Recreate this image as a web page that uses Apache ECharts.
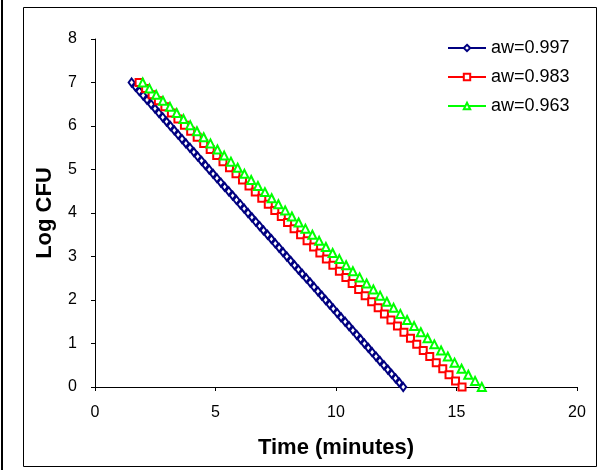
<!DOCTYPE html>
<html>
<head>
<meta charset="utf-8">
<script src="https://cdn.jsdelivr.net/npm/echarts@6/dist/echarts.min.js"></script>
<style>
html,body{margin:0;padding:0;background:#fff;}
#chart{width:599px;height:470px;}
</style>
</head>
<body>
<div id="chart"></div>
<script>
var seriesNames = ['aw=0.997', 'aw=0.983', 'aw=0.963'];
var xTicks = [0, 5, 10, 15, 20];
var yTicks = [0, 1, 2, 3, 4, 5, 6, 7, 8];

var blueX = [1.52,1.68,1.84,2.00,2.16,2.33,2.49,2.65,2.81,2.97,3.13,3.29,3.45,3.61,3.77,3.94,4.10,4.26,4.42,4.58,4.74,4.90,5.06,5.22,5.38,5.55,5.71,5.87,6.03,6.19,6.35,6.51,6.67,6.83,6.99,7.16,7.32,7.48,7.64,7.80,7.96,8.12,8.28,8.44,8.60,8.77,8.93,9.09,9.25,9.41,9.57,9.73,9.89,10.05,10.21,10.38,10.54,10.70,10.86,11.02,11.18,11.34,11.50,11.66,11.82,11.99,12.15,12.31,12.47,12.63,12.79];
var blueY = [7.0,6.9,6.8,6.7,6.6,6.5,6.4,6.3,6.2,6.1,6.0,5.9,5.8,5.7,5.6,5.5,5.4,5.3,5.2,5.1,5.0,4.9,4.8,4.7,4.6,4.5,4.4,4.3,4.2,4.1,4.0,3.9,3.8,3.7,3.6,3.5,3.4,3.3,3.2,3.1,3.0,2.9,2.8,2.7,2.6,2.5,2.4,2.3,2.2,2.1,2.0,1.9,1.8,1.7,1.6,1.5,1.4,1.3,1.2,1.1,1.0,0.9,0.8,0.7,0.6,0.5,0.4,0.3,0.2,0.1,0.0];

var redX = [1.83,2.10,2.37,2.63,2.90,3.17,3.44,3.71,3.97,4.24,4.51,4.78,5.05,5.31,5.58,5.85,6.12,6.39,6.65,6.92,7.19,7.46,7.73,7.99,8.26,8.53,8.80,9.07,9.33,9.60,9.87,10.14,10.41,10.67,10.94,11.21,11.48,11.75,12.01,12.28,12.55,12.82,13.09,13.35,13.62,13.89,14.16,14.43,14.69,14.96,15.23];
var redY = [7.00,6.86,6.72,6.58,6.44,6.30,6.16,6.02,5.88,5.74,5.60,5.46,5.32,5.18,5.04,4.90,4.76,4.62,4.48,4.34,4.20,4.06,3.92,3.78,3.64,3.50,3.36,3.22,3.08,2.94,2.80,2.66,2.52,2.38,2.24,2.10,1.96,1.82,1.68,1.54,1.40,1.26,1.12,0.98,0.84,0.70,0.56,0.42,0.28,0.14,0.00];

var greenX = [1.98,2.26,2.54,2.82,3.11,3.39,3.67,3.95,4.23,4.51,4.79,5.08,5.36,5.64,5.92,6.20,6.48,6.76,7.05,7.33,7.61,7.89,8.17,8.45,8.73,9.02,9.30,9.58,9.86,10.14,10.42,10.70,10.98,11.27,11.55,11.83,12.11,12.39,12.67,12.95,13.24,13.52,13.80,14.08,14.36,14.64,14.92,15.21,15.49,15.77,16.05];
var greenY = [7.00,6.86,6.72,6.58,6.44,6.30,6.16,6.02,5.88,5.74,5.60,5.46,5.32,5.18,5.04,4.90,4.76,4.62,4.48,4.34,4.20,4.06,3.92,3.78,3.64,3.50,3.36,3.22,3.08,2.94,2.80,2.66,2.52,2.38,2.24,2.10,1.96,1.82,1.68,1.54,1.40,1.26,1.12,0.98,0.84,0.70,0.56,0.42,0.28,0.14,0.00];

function pairs(xs, ys) { return xs.map(function (x, i) { return [x, ys[i]]; }); }

var FONT = '"Liberation Sans", Arial, sans-serif';
var chart = echarts.init(document.getElementById('chart'), null, { renderer: 'canvas' });

chart.setOption({
  animation: false,
  backgroundColor: '#fff',
  graphic: [
    { type: 'rect', shape: { x: 23.5, y: 7.5, width: 573, height: 459 }, style: { fill: 'none', stroke: '#000', lineWidth: 1 }, z: -1 },
    { type: 'line', shape: { x1: 2, y1: 0, x2: 2, y2: 470 }, style: { stroke: '#000', lineWidth: 2 }, z: -1 }
  ],
  grid: { left: 95, right: 22, top: 39, bottom: 83 },
  legend: {
    orient: 'vertical',
    left: 442,
    top: 34,
    itemWidth: 38,
    itemHeight: 8,
    itemGap: 11,
    textStyle: { fontFamily: FONT, fontSize: 18, lineHeight: 18, color: '#000' },
    data: seriesNames
  },
  xAxis: {
    type: 'value',
    min: xTicks[0], max: xTicks[xTicks.length - 1], interval: 5,
    name: 'Time (minutes)',
    nameLocation: 'middle',
    nameGap: 50,
    nameTextStyle: { fontFamily: FONT, fontSize: 22, fontWeight: 'bold', color: '#000' },
    axisLine: { onZero: false, lineStyle: { color: '#000', width: 1 } },
    axisTick: { show: true, length: 4, inside: false, lineStyle: { color: '#000' } },
    axisLabel: { fontFamily: FONT, fontSize: 16, color: '#000', margin: 18 },
    splitLine: { show: false }
  },
  yAxis: {
    type: 'value',
    min: yTicks[0], max: yTicks[yTicks.length - 1], interval: 1,
    name: 'Log CFU',
    nameLocation: 'middle',
    nameGap: 39,
    nameTextStyle: { fontFamily: FONT, fontSize: 22, fontWeight: 'bold', color: '#000' },
    axisLine: { show: true, lineStyle: { color: '#000', width: 1 } },
    axisTick: { show: true, length: 4, inside: false, lineStyle: { color: '#000' } },
    axisLabel: { fontFamily: FONT, fontSize: 16, color: '#000', margin: 18 },
    splitLine: { show: false }
  },
  series: [
    {
      name: seriesNames[0], type: 'line', data: pairs(blueX, blueY),
      symbol: 'emptyDiamond', symbolSize: [6, 8], showAllSymbol: true,
      lineStyle: { color: '#000080', width: 1 },
      itemStyle: { color: '#000080', borderWidth: 1 }
    },
    {
      name: seriesNames[1], type: 'line', data: pairs(redX, redY),
      symbol: 'emptyRect', symbolSize: 7, showAllSymbol: true,
      lineStyle: { color: '#ff0000', width: 1 },
      itemStyle: { color: '#ff0000', borderWidth: 1 }
    },
    {
      name: seriesNames[2], type: 'line', data: pairs(greenX, greenY),
      symbol: 'emptyTriangle', symbolSize: 8, showAllSymbol: true,
      lineStyle: { color: '#00ff00', width: 1 },
      itemStyle: { color: '#00ff00', borderWidth: 1 }
    }
  ]
});
</script>
</body>
</html>
